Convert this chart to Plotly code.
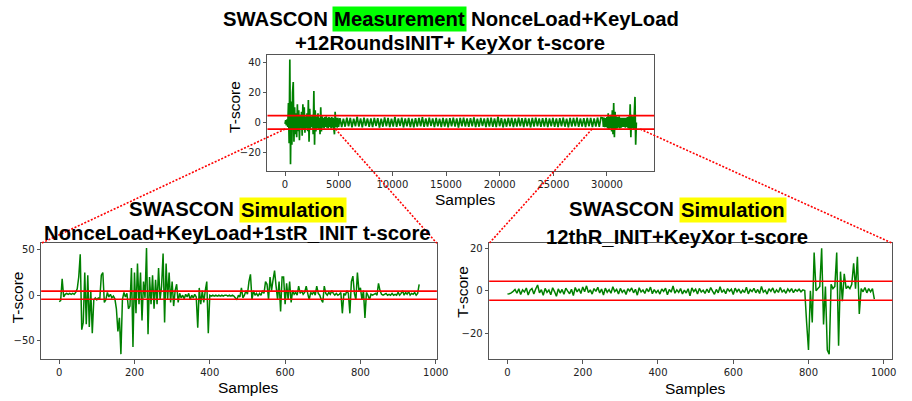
import plotly.graph_objects as go

# ---------------- data ----------------
# Measurement t-score (top): sample index segments and values
meas_x_a = list(range(0, 5056, 64))
meas_y_a = [-1, 1.5, -2, 2, -3, 13, -14, 42, -28, 14,
            -15, 20, 27, -13, 10, -8, 6, -10, 12, -6,
            8, -12, 5, -4, 7, -9, 12, -5, 10, -7,
            4, -4, 6, -6, 15, -13, 9, -5, 4, -3,
            5, -8, 21, -15, 8, -6, 4, -4, 6, -5,
            3, -8, 10, -6, 4, -3.5, 3, -4, 3.5, -3,
            4, -3.5, 3, -4, 3.5, -3, 3, -4, 3.5, -3.5,
            3, -4, -8, 7, -3, 3, -3.5, 3, -3]
meas_x_b = list(range(5120, 29500, 160))
meas_y_b = [2.8, -3.1, 2.5, -2.9, 3.2, -2.6, 2.9, -3.3, 2.4,
            -2.7, 3.9, -2.8, 2.6, -3.4, 3.1, -2.5, 2.7, -3.0,
            2.6, -3.2, 3.0, -2.4, 2.8, -3.5, 2.5, -2.9, 3.3,
            -2.6, 2.9, -3.1, 2.4, -2.8, 3.6, -3.0, 2.7, -2.5,
            3.1, -3.3, 2.6, -2.7, 2.9, -3.1, 2.5, -3.4, 2.8,
            -2.9, 3.0, -2.6, 3.4, -3.0, 2.6, -2.8, 3.2, -2.5,
            2.7, -3.2, 2.9, -2.7, 2.5, -3.1, 3.0, -2.8, 2.6,
            -3.3, 2.8, -2.6, 3.1, -2.9, 2.7, -3.5, 2.9, -2.6,
            3.2, -2.8, 2.6, -3.0, 2.8, -2.7, 3.3, -3.1, 2.5,
            -2.9, 3.0, -2.5, 2.7, -3.2, 2.9, -2.8, 3.1, -3.0,
            2.6, -3.1, 3.8, -2.7, 2.8, -3.3, 2.5, -2.9, 3.0,
            -2.6, 2.9, -3.2, 2.7, -2.8, 3.1, -2.6, 2.8, -3.1,
            3.0, -2.7, 2.6, -3.4, 2.9, -2.8, 3.2, -2.6, 2.7,
            -3.0, 2.8, -2.9, 3.0, -3.2, 2.6, -2.7, 2.9, -3.0,
            2.7, -3.1, 2.8, -2.6, 3.1, -2.9, 2.5, -3.3, 3.0,
            -2.8, 2.9, -2.7, 3.2, -3.0, 2.6, -2.9, 2.8, -3.1,
            2.9, -2.7, 3.0, -3.2, 2.7, -2.8, 3.1, -3.0, 3.2]
meas_x_c = list(range(29600, 32768, 64))
meas_y_c = [3, -3, 3.2, -3.3, 2.8, -3, 3.5, -4, 6, -5,
            4, -4, 5, -6, 8, -8, 13, -10, 7, -5,
            4, -4, 3.5, -3.5, 4, -4, 3, -3.5, 3, -3,
            3, -3, 3, -3.5, 3, -3, 3.5, -4, 4, -5,
            12, -10, 5, -4, 4, -5, 6, 17, -15, 0]

# Simulation 1: NonceLoad+KeyLoad+1stR_INIT
sim1_x = list(range(0, 960, 4))
sim1_y = [-7, -6, 18, -2, 1, 2, 1, 2, 1, 2,
          1, 3, 7, 20, 45, -38, -30, 25, -32, 22,
          -35, 5, -42, -5, -3, -5, -3, -4, 22, 25,
          -8, -5, 3, -2, 1, -3, -1, -4, -15, -40,
          -25, -65, -5, 3, -2, 2, -15, -12, 30, -57,
          25, -20, 35, -10, 25, -28, 15, -3, 52, -43,
          20, -10, 22, -15, 17, -10, 30, -5, 10, 46,
          -30, 35, -5, 25, -8, 15, -12, 5, 12, -8,
          2, -3, 0, -4, 1, -2, 2, -5, 0, -3,
          1, -2, -36, 8, -10, 5, -8, 5, 15, -42,
          0, -1, 0, -1, 0, -1, 0, -1, 0, -1,
          0, 0, -1, 0, -1, 0, -1, -3, -5, 0,
          -2, 8, -3, 0, 5, 1, 15, 23, -5, 5,
          0, 2, -1, 2, 0, 5, 2, 15, 12, -5,
          20, 5, 17, 27, 10, -5, 15, -18, 20, 20,
          -10, 13, -5, 15, -8, 5, 1, 3, 0, 10,
          2, 5, 1, 3, 10, 2, -5, 3, 1, 4,
          0, 10, 2, 0, -5, -8, 10, 2, 0, 3,
          1, 5, 2, 0, 2, 0, 1, 3, -20, 2,
          0, 5, 2, -20, 15, 21, 2, -5, 25, 5,
          8, -5, 5, -25, 3, 0, -5, 1, 0, 1,
          2, 0, 13, 5, 1, 0, 1, 2, 0, 1,
          0, 2, 0, 1, 0, 3, 0, 2, 5, 0,
          3, 1, 4, 0, 2, 1, 3, 0, 2, 12]

# Simulation 2: 12thR_INIT+KeyXor
sim2_x = list(range(0, 980, 5))
sim2_y = [-1.5, -1.4, -1.0,
          -0.3, 0.6, -1.2, 0.9, -1.8, 0.4, -0.6, 1.3, -2.0, 0.2, 1.0, -1.5, 0.8,
          2.7, -1.0, 0.5, -2.2, 1.1, -0.8, 0.3, -1.9, 1.4, -0.4, -2.6, 0.9, -1.1,
          0.6, -1.7, 1.2, -0.2, -1.4, 0.7, -2.3, 1.5, -0.6, 0.9, -1.3, 1.8, -0.5,
          2.3, -0.9, 0.4, -1.6, 1.0, -0.3, 1.6, -1.1, 0.8, -2.0, 1.2, -0.7, 0.5,
          -1.2, 1.9, -0.4, 0.6, -1.5, 1.1, -0.8, 0.4, -1.8, 0.9, -0.2, 1.3, -1.0,
          0.7, -2.1, 1.4, -0.6, 0.3, -1.3, 1.0, -0.5, 1.7, -1.4, 0.5, -0.9, 0.2,
          -1.6, 0.8, -0.3, 1.2, -1.9, 0.6, -0.7, 2.2, -1.2, 0.4, -0.8, 1.0, -1.5,
          0.3, -1.1, 0.9, -2.4, 1.3, -0.4, 0.7, -1.6, 1.1, -0.6, 0.2, -1.3, 0.8,
          -0.9, 1.5, -0.2, -1.7, 0.6, -1.0, 1.9, -0.8, 0.4, -1.4, 1.0, -0.3, 0.7,
          -1.8, 1.2, -0.5, 0.8, -1.2, 0.3, -0.9, 1.6, -1.5, 0.5, -0.4, 1.1, -1.0,
          0.6, -1.3, 2.0, -0.7, 0.2, -1.6, 0.9, -0.3, 1.3, -1.1, 0.4, -0.8, 1.5,
          -0.6, 0.3, -1.2, 0.8, -0.4, 1.0, -0.9, 0.5, -0.2, 0.7, -0.5, 0.4, 0.1,
          -15, -28, 0, -15, 18, 0, 1, 2, 20, -16, 2, -28, -30, 3, 1, 2, 18, -26,
          9, -5, 8, 1, 2, 1, 3, 13, 1, 16, -11, 1, -0.5, 1.5, -1, 1, -0.5, 1, -4]

threshold = 4.5

top_xticks = [0, 5000, 10000, 15000, 20000, 25000, 30000]
top_yticks = [-20, 0, 20, 40]
sim1_xticks = [0, 200, 400, 600, 800, 1000]
sim1_yticks = [-50, 0, 50]
sim2_xticks = [0, 200, 400, 600, 800, 1000]
sim2_yticks = [-20, 0, 20]

# zoom connectors: sample positions on the measurement trace
conn_top = [(0, -4.5), (4700, -4.5), (28600, -4.5), (33100, -4.5)]

# ---------------- layout geometry ----------------
W, H = 912, 401
def px_dom_x(a, b):
    return [a / W, b / W]
def px_dom_y(top, bottom):
    return [1 - bottom / H, 1 - top / H]

top_dx = px_dom_x(271, 663)
top_dy = px_dom_y(55, 171)
bl_dx = px_dom_x(41.7, 442.7)
br_dx = px_dom_x(495.7, 904.3)
bot_dy = px_dom_y(243.3, 359.3)

top_xr = [-1638, 34405]
top_yr = [-32.5, 45]
bl_xr = [-47.8, 1003]
bl_yr = [-70.7, 57.2]
br_xr = [-48.7, 1023]
br_yr = [-32.4, 22.4]

GREEN = "#008000"
RED = "#ff0000"

fig = go.Figure()
fig.add_trace(go.Scatter(x=meas_x_a + meas_x_b + meas_x_c,
                         y=meas_y_a + meas_y_b + meas_y_c,
                         mode="lines",
                         line=dict(color=GREEN, width=1.7, simplify=False),
                         xaxis="x", yaxis="y", showlegend=False))
fig.add_trace(go.Scatter(x=sim1_x, y=sim1_y, mode="lines",
                         line=dict(color=GREEN, width=1.5, simplify=False),
                         xaxis="x2", yaxis="y2", showlegend=False))
fig.add_trace(go.Scatter(x=sim2_x, y=sim2_y, mode="lines",
                         line=dict(color=GREEN, width=1.5, simplify=False),
                         xaxis="x3", yaxis="y3", showlegend=False))

tickfont = dict(family="DejaVu Sans", size=10, color="#222")
def xax(dom, rng, ticks, anchor):
    return dict(domain=dom, range=rng, tickvals=ticks, anchor=anchor,
                tickformat="d",
                showline=True, mirror=True, linecolor="#555", linewidth=1,
                ticks="outside", ticklen=3.5, tickcolor="#555",
                showgrid=False, zeroline=False, tickfont=tickfont)

fig.update_layout(
    width=W, height=H, autosize=False,
    margin=dict(l=0, r=0, t=0, b=0),
    paper_bgcolor="white", plot_bgcolor="white",
    xaxis=xax(top_dx, top_xr, top_xticks, "y"),
    yaxis=xax(top_dy, top_yr, top_yticks, "x"),
    xaxis2=xax(bl_dx, bl_xr, sim1_xticks, "y2"),
    yaxis2=xax(bot_dy, bl_yr, sim1_yticks, "x2"),
    xaxis3=xax(br_dx, br_xr, sim2_xticks, "y3"),
    yaxis3=xax(bot_dy, br_yr, sim2_yticks, "x3"),
)

# threshold lines
for xa, ya in [("x", "y"), ("x2", "y2"), ("x3", "y3")]:
    for t in (threshold, -threshold):
        fig.add_shape(type="line", xref=xa + " domain", x0=0, x1=1,
                      yref=ya, y0=t, y1=t, layer="above",
                      line=dict(color=RED, width=1.6))

# connectors (data -> paper)
def to_paper(xv, yv, dx, dy, xr, yr):
    px = dx[0] + (xv - xr[0]) / (xr[1] - xr[0]) * (dx[1] - dx[0])
    py = dy[0] + (yv - yr[0]) / (yr[1] - yr[0]) * (dy[1] - dy[0])
    return px, py

bottom_corners = [(bl_dx[0], bot_dy[1]), (bl_dx[1], bot_dy[1]),
                  (br_dx[0], bot_dy[1]), (br_dx[1], bot_dy[1])]
for (cx, cy), (bx, by) in zip(conn_top, bottom_corners):
    px, py = to_paper(cx, cy, top_dx, top_dy, top_xr, top_yr)
    fig.add_shape(type="line", xref="paper", yref="paper",
                  x0=px, y0=py, x1=bx, y1=by, layer="above",
                  line=dict(color=RED, width=1.6, dash="2px,1.6px"))

# ---------------- titles and labels ----------------
TF = "Liberation Sans"
def ann(text, x, y, xanchor="center", size=20.3, bold=True, bg=None, angle=0):
    fig.add_annotation(text=("<b>%s</b>" % text) if bold else text,
                       x=x / W, y=1 - y / H, xref="paper", yref="paper",
                       xanchor=xanchor, yanchor="middle", showarrow=False,
                       textangle=angle,
                       font=dict(family=TF, size=size, color="black"),
                       bgcolor=bg, borderpad=1 if bg else 0)

ann("SWASCON", 333, 18.8, "right")
ann("Measurement", 405, 18.6, bg="#00ff00")
ann("NonceLoad+KeyLoad", 476.5, 18.8, "left")
ann("+12RoundsINIT+ KeyXor t-score", 456, 43)

ann("SWASCON", 238.5, 209.3, "right")
ann("Simulation", 296.5, 209.5, bg="#ffff00")
ann("NonceLoad+KeyLoad+1stR_INIT t-score", 240.5, 233.3)

ann("SWASCON", 684, 209.3, "right")
ann("Simulation", 742.5, 209.5, bg="#ffff00")
ann("12thR_INIT+KeyXor t-score", 686, 236.7)

ann("Samples", 471.5, 199.5, size=15.5, bold=False)
ann("Samples", 251.7, 387.5, size=15.5, bold=False)
ann("Samples", 705, 388, size=15.5, bold=False)
ann("T-score", 237.5, 106.5, size=15.5, bold=False, angle=-90)
ann("T-score", 17.5, 297, size=15.5, bold=False, angle=-90)
ann("T-score", 468, 292, size=15.5, bold=False, angle=-90)

fig.write_html("out.html")
